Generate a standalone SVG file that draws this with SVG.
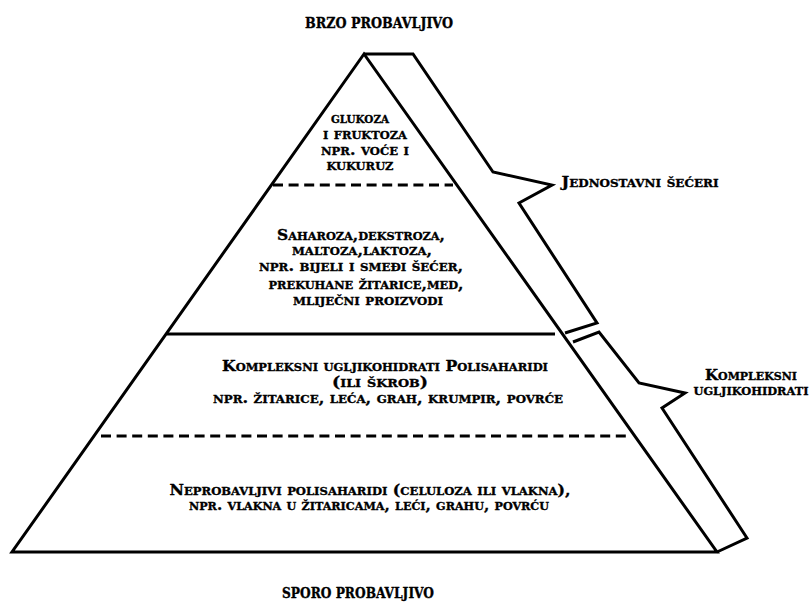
<svg xmlns="http://www.w3.org/2000/svg" width="811" height="602" viewBox="0 0 811 602">
<style>
.ln{fill:none;stroke:#000;stroke-width:3;stroke-linejoin:miter;stroke-linecap:butt}
.dash{fill:none;stroke:#000;stroke-width:3;stroke-dasharray:10 5.6}
text{font-family:"DejaVu Serif","Liberation Serif",serif;font-weight:bold;font-size:15px;font-variant:small-caps;fill:#000;stroke:#000;stroke-width:0.35;text-anchor:middle}
.cap{font-variant:normal;font-size:14px}
</style>
<rect width="811" height="602" fill="#fff"/>
<g id="pyramid">
<polygon class="ln" points="364,54 12,552 717,552"/>
<line class="dash" x1="273" y1="185" x2="453" y2="185"/>
<line class="ln" x1="167" y1="334" x2="555" y2="334"/>
<line class="dash" x1="101" y1="436" x2="626" y2="436"/>
</g>
<g id="connectors">
<polyline class="ln" points="364,54 413,54 493,172 552,185 519,203 597,323 565,333"/>
<polyline class="ln" points="573,342 599,332 639,383 685,393 662,408 747,538 717,552"/>
</g>
<g id="top-label"><text class="cap" x="379" y="28" textLength="148" lengthAdjust="spacingAndGlyphs">BRZO PROBAVLJIVO</text></g>
<g id="layer1">
<text x="360" y="123" textLength="58" lengthAdjust="spacingAndGlyphs">glukoza</text>
<text x="365" y="139" textLength="84" lengthAdjust="spacingAndGlyphs">i fruktoza</text>
<text x="365" y="155" textLength="88" lengthAdjust="spacingAndGlyphs">npr. voće i</text>
<text x="360" y="170" textLength="67" lengthAdjust="spacingAndGlyphs">kukuruz</text>
</g>
<g id="layer2">
<text x="361" y="240" textLength="168" lengthAdjust="spacingAndGlyphs">Saharoza,dekstroza,</text>
<text x="362" y="255" textLength="140" lengthAdjust="spacingAndGlyphs">maltoza,laktoza,</text>
<text x="361" y="271" textLength="204" lengthAdjust="spacingAndGlyphs">npr. bijeli i smeđi šećer,</text>
<text x="366" y="289" textLength="195" lengthAdjust="spacingAndGlyphs">prekuhane žitarice,med,</text>
<text x="368" y="305" textLength="150" lengthAdjust="spacingAndGlyphs">mliječni proizvodi</text>
</g>
<g id="layer3">
<text x="385" y="371" textLength="326" lengthAdjust="spacingAndGlyphs">Kompleksni ugljikohidrati Polisaharidi</text>
<text x="380" y="387" textLength="96" lengthAdjust="spacingAndGlyphs">(ili škrob)</text>
<text x="388" y="403" textLength="350" lengthAdjust="spacingAndGlyphs">npr. žitarice, leća, grah, krumpir, povrće</text>
</g>
<g id="layer4">
<text x="370" y="495" textLength="401" lengthAdjust="spacingAndGlyphs">Neprobavljivi polisaharidi (celuloza ili vlakna),</text>
<text x="369" y="510" textLength="360" lengthAdjust="spacingAndGlyphs">npr. vlakna u žitaricama, leći, grahu, povrću</text>
</g>
<g id="bottom-label"><text class="cap" x="358" y="598" textLength="152" lengthAdjust="spacingAndGlyphs">SPORO PROBAVLJIVO</text></g>
<g id="simple-sugars"><text x="640" y="187" textLength="157" lengthAdjust="spacingAndGlyphs">Jednostavni šećeri</text></g>
<g id="complex-carbs">
<text x="751" y="380" textLength="92" lengthAdjust="spacingAndGlyphs">Kompleksni</text>
<text x="751" y="395" textLength="115" lengthAdjust="spacingAndGlyphs">ugljikohidrati</text>
</g>
</svg>
